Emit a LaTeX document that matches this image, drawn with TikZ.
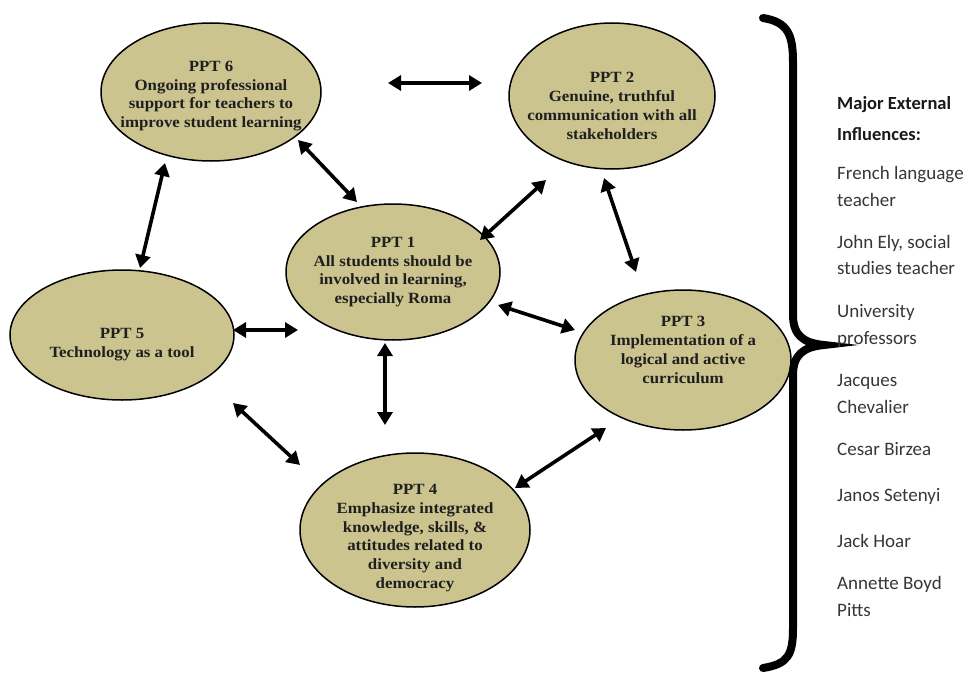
\documentclass[tikz,border=0pt]{standalone}
\usepackage{fontspec}
\setmainfont{Liberation Serif}
\newfontfamily\pptfont[FakeStretch=1.08]{Liberation Serif}
\newfontfamily\cali{Carlito}
\usetikzlibrary{shapes.geometric,arrows.meta}
\definecolor{khaki}{RGB}{203,196,143}
\definecolor{sidegray}{RGB}{55,55,55}
\tikzset{
  ppt/.style={ellipse,draw=black,line width=1.5pt,fill=khaki,inner sep=0pt},
  ptxt/.style={align=center,font=\pptfont\fontsize{15.6}{18.8}\selectfont\bfseries,text=black!88,inner sep=0pt},
  dbl/.style={line width=3.6pt,{Triangle[length=13pt,width=15pt]}-{Triangle[length=13pt,width=15pt]}},
  side/.style={anchor=base west,inner sep=0pt,font=\cali\fontsize{19}{22}\selectfont,text=sidegray},
  sidehead/.style={side,font=\cali\fontsize{18.5}{22}\selectfont\bfseries,text=black!90}
}
\begin{document}
\begin{tikzpicture}[x=1pt,y=-1pt]
\path[use as bounding box,fill=white] (0,0) rectangle (969,677);

% ellipses
\node[ppt,minimum width=220pt,minimum height=138pt] (p6) at (211,92) {};
\node[ppt,minimum width=206pt,minimum height=146pt] (p2) at (612,96) {};
\node[ppt,minimum width=214pt,minimum height=136pt] (p1) at (393,272) {};
\node[ppt,minimum width=224pt,minimum height=130pt] (p5) at (122,335) {};
\node[ppt,minimum width=216pt,minimum height=140pt] (p3) at (683,360) {};
\node[ppt,minimum width=230pt,minimum height=154pt] (p4) at (415,530) {};

% texts
\node[ptxt] (t6) at (211,96) {PPT 6\\Ongoing professional\\support for teachers to\\improve student learning};
\node[ptxt] (t2) at (612,106) {PPT 2\\Genuine, truthful\\communication with all\\stakeholders};
\node[ptxt] (t1) at (393,272) {PPT 1\\All students should be\\involved in learning,\\especially Roma};
\node[ptxt] (t5) at (122,345) {PPT 5\\Technology as a tool};
\node[ptxt] (t3) at (683,350) {PPT 3\\Implementation of a\\logical and active\\curriculum};
\node[ptxt] (t4) at (415,538) {PPT 4\\Emphasize integrated\\knowledge, skills, \&\\attitudes related to\\diversity and\\democracy};

% arrow end points
\coordinate (a62) at (388,83);  \coordinate (b62) at (482,83);
\coordinate (a61) at (298,140); \coordinate (b61) at (357,202);
\coordinate (a65) at (165,163); \coordinate (b65) at (140,268);
\coordinate (a21) at (546,180); \coordinate (b21) at (480,240);
\coordinate (a23) at (604,178); \coordinate (b23) at (636,272);
\coordinate (a51) at (233,330); \coordinate (b51) at (298,330);
\coordinate (a13) at (498,305); \coordinate (b13) at (575,330);
\coordinate (a14) at (385,343); \coordinate (b14) at (385,425);
\coordinate (a54) at (233,403); \coordinate (b54) at (300,465);
\coordinate (a34) at (606,428); \coordinate (b34) at (515,488);

\foreach \e in {62,61,65,21,23,51,13,14,54,34}
  \draw[dbl] (a\e) -- (b\e);

% brace
\coordinate (br0) at (763,18);
\coordinate (brt) at (824,345);
\coordinate (br1) at (763,668);
\draw[line width=8pt,line cap=round] (br0) .. controls (788,22) and (793,35) .. (793,62) -- (793,315)
  .. controls (793,335) and (803,343) .. (brt)
  .. controls (803,347) and (793,355) .. (793,375) -- (793,628)
  .. controls (793,655) and (788,664) .. (br1);

% side text
\node[sidehead] (h1) at (837,109) {Major External};
\node[sidehead] (h2) at (837,140) {Influences:};
\node[side] (s1) at (837,179) {French language};
\node[side] (s2) at (837,206) {teacher};
\node[side] (s3) at (837,248) {John Ely, social};
\node[side] (s4) at (837,274) {studies teacher};
\node[side] (s5) at (837,317) {University};
\node[side] (s6) at (837,344) {professors};
\node[side] (s7) at (837,386) {Jacques};
\node[side] (s8) at (837,413) {Chevalier};
\node[side] (s9) at (837,455) {Cesar Birzea};
\node[side] (s10) at (837,501) {Janos Setenyi};
\node[side] (s11) at (837,547) {Jack Hoar};
\node[side] (s12) at (837,589) {Annette Boyd};
\node[side] (s13) at (837,616) {Pitts};
\end{tikzpicture}
\end{document}
